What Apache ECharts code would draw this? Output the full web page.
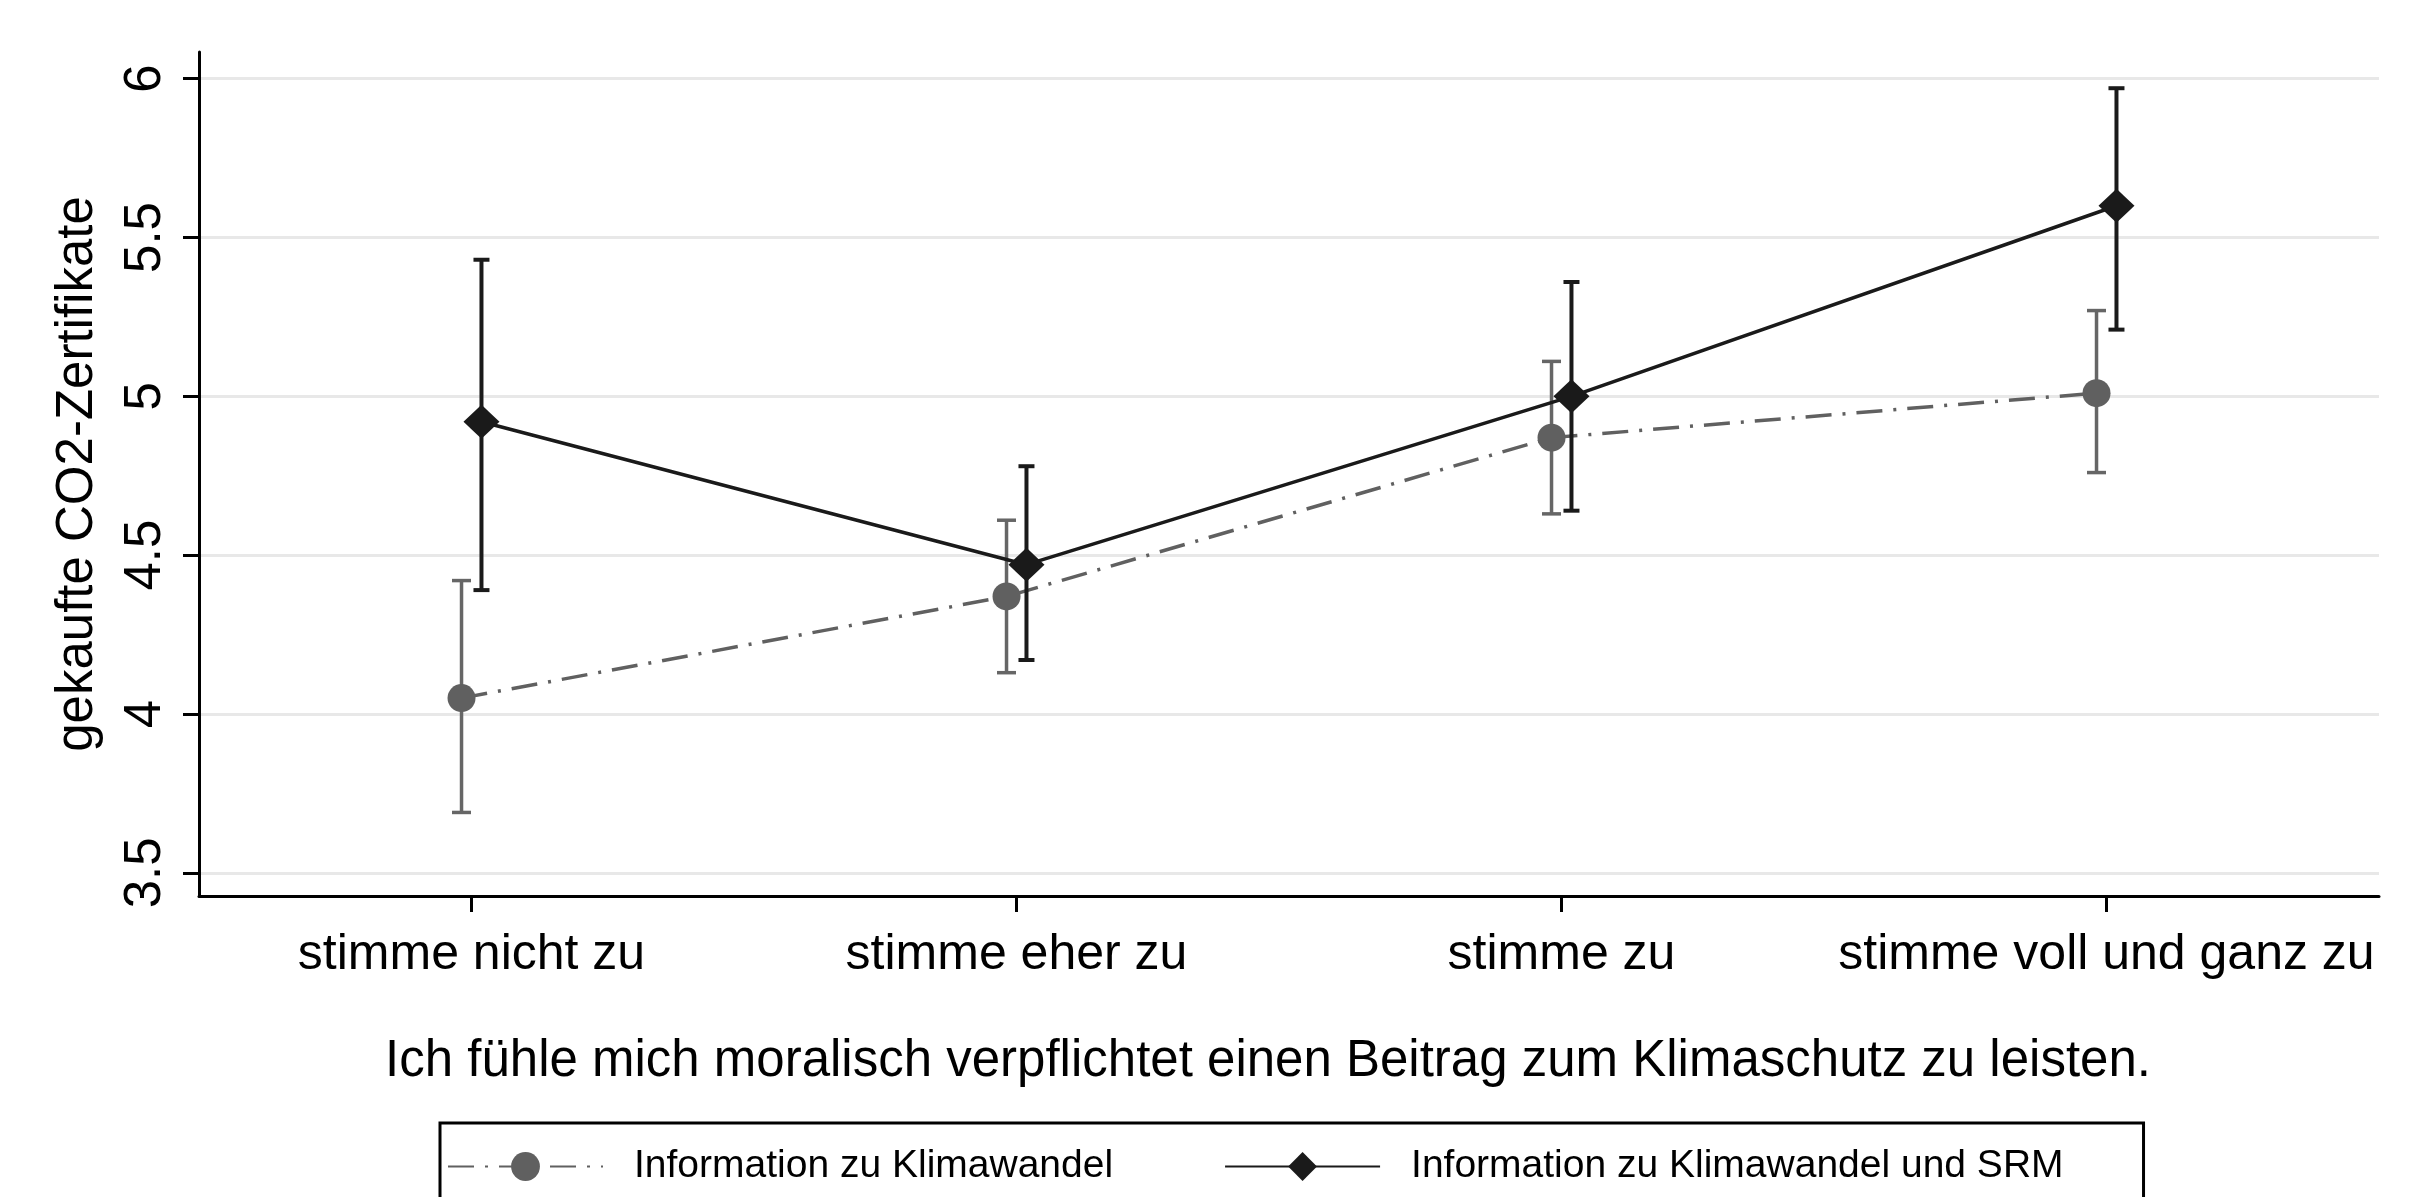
<!DOCTYPE html>
<html>
<head>
<meta charset="utf-8">
<script src="https://cdn.jsdelivr.net/npm/echarts@6/dist/echarts.min.js"></script>
<style>
html,body{margin:0;padding:0;background:#fff;}
#chart{width:2417px;height:1197px;}
</style>
</head>
<body>
<div id="chart"></div>
<script>
// ---- data ----
const categories = ['stimme nicht zu', 'stimme eher zu', 'stimme zu', 'stimme voll und ganz zu'];
const seriesNames = ['Information zu Klimawandel', 'Information zu Klimawandel und SRM'];
const klimaMean = [4.05, 4.37, 4.87, 5.01];
const klimaLow  = [3.69, 4.13, 4.63, 4.76];
const klimaHigh = [4.42, 4.61, 5.11, 5.27];
const srmMean = [4.92, 4.47, 5.00, 5.60];
const srmLow  = [4.39, 4.17, 4.64, 5.21];
const srmHigh = [5.43, 4.78, 5.36, 5.97];
const yTicks = [3.5, 4, 4.5, 5, 5.5, 6];
const xTitle = 'Ich fühle mich moralisch verpflichtet einen Beitrag zum Klimaschutz zu leisten.';
const yTitle = 'gekaufte CO2-Zertifikate';

// ---- layout / style ----
const FONT = 'Liberation Sans, Arial, sans-serif';
const DODGE = 0.0183; // horizontal dodge of the two groups (category units)
const GRAY = '#606060';
const BLACK = '#1a1a1a';
const catPos = categories.map((c, i) => i + 1);

function pts(mean, off) { return mean.map((v, i) => [catPos[i] + off, v]); }
function bars(lo, hi, off) { return lo.map((v, i) => [catPos[i] + off, v, hi[i]]); }

function errRender(color, lw, cap) {
  return function (params, api) {
    const x = api.value(0), lo = api.value(1), hi = api.value(2);
    const t = api.coord([x, hi]), b = api.coord([x, lo]);
    const hw = cap / 2;
    const st = { stroke: color, lineWidth: lw };
    return { type: 'group', children: [
      { type: 'line', shape: { x1: t[0], y1: t[1], x2: b[0], y2: b[1] }, style: st },
      { type: 'line', shape: { x1: t[0] - hw, y1: t[1], x2: t[0] + hw, y2: t[1] }, style: st },
      { type: 'line', shape: { x1: b[0] - hw, y1: b[1], x2: b[0] + hw, y2: b[1] }, style: st }
    ]};
  };
}

const chart = echarts.init(document.getElementById('chart'), null, { renderer: 'canvas' });
chart.setOption({
  animation: false,
  backgroundColor: '#ffffff',
  textStyle: { fontFamily: FONT, color: '#000' },
  grid: { left: 199, right: 38, top: 52, bottom: 301, containLabel: false },
  xAxis: {
    type: 'value', min: 0.5, max: 4.5,
    name: xTitle, nameLocation: 'middle', nameGap: 140,
    nameTextStyle: { fontFamily: FONT, fontSize: 51, color: '#000', padding: [0, 42, 0, 0] },
    axisLine: { show: true, lineStyle: { color: '#000', width: 3 } },
    axisTick: { show: true, customValues: catPos, length: 16, lineStyle: { color: '#000', width: 3 } },
    axisLabel: { customValues: catPos, margin: 34, fontFamily: FONT, fontSize: 50, color: '#000',
      formatter: v => categories[Math.round(v) - 1] },
    splitLine: { show: false }
  },
  yAxis: {
    type: 'value', min: 3.427, max: 6.084,
    name: yTitle, nameLocation: 'middle', nameGap: 96, nameRotate: 90,
    nameTextStyle: { fontFamily: FONT, fontSize: 51, color: '#000' },
    axisLine: { show: true, lineStyle: { color: '#000', width: 3 } },
    axisTick: { show: true, customValues: yTicks, length: 16, lineStyle: { color: '#000', width: 3 } },
    axisLabel: { customValues: yTicks, rotate: 90, margin: 28, fontFamily: FONT, fontSize: 51, color: '#000' },
    splitLine: { show: true, lineStyle: { color: '#e8e8e8', width: 3 } }
  },
  legend: {
    data: seriesNames,
    orient: 'horizontal', left: 440, top: 1123,
    padding: [24, 80, 24, 7],
    borderColor: '#000', borderWidth: 3,
    itemWidth: 155, itemHeight: 36, itemGap: 111,
    textStyle: { fontFamily: FONT, fontSize: 39, color: '#000', padding: [0, 0, 0, 26] }
  },
  series: [
    {
      name: seriesNames[0] + ' CI', type: 'custom', z: 2,
      renderItem: errRender('#666666', 3.5, 19),
      encode: { x: 0, y: [1, 2] },
      data: bars(klimaLow, klimaHigh, -DODGE)
    },
    {
      name: seriesNames[0], type: 'line', z: 3,
      data: pts(klimaMean, -DODGE),
      symbol: 'circle', symbolSize: 28, showSymbol: true, showAllSymbol: true,
      itemStyle: { color: GRAY },
      lineStyle: { color: GRAY, width: 3.5, type: [26, 11, 3, 11] }
    },
    {
      name: seriesNames[1] + ' CI', type: 'custom', z: 4,
      renderItem: errRender(BLACK, 4, 16),
      encode: { x: 0, y: [1, 2] },
      data: bars(srmLow, srmHigh, DODGE)
    },
    {
      name: seriesNames[1], type: 'line', z: 5,
      data: pts(srmMean, DODGE),
      symbol: 'diamond', symbolSize: [36, 34], showSymbol: true, showAllSymbol: true,
      itemStyle: { color: BLACK },
      lineStyle: { color: BLACK, width: 3.5, type: 'solid' }
    }
  ]
});
</script>
</body>
</html>
